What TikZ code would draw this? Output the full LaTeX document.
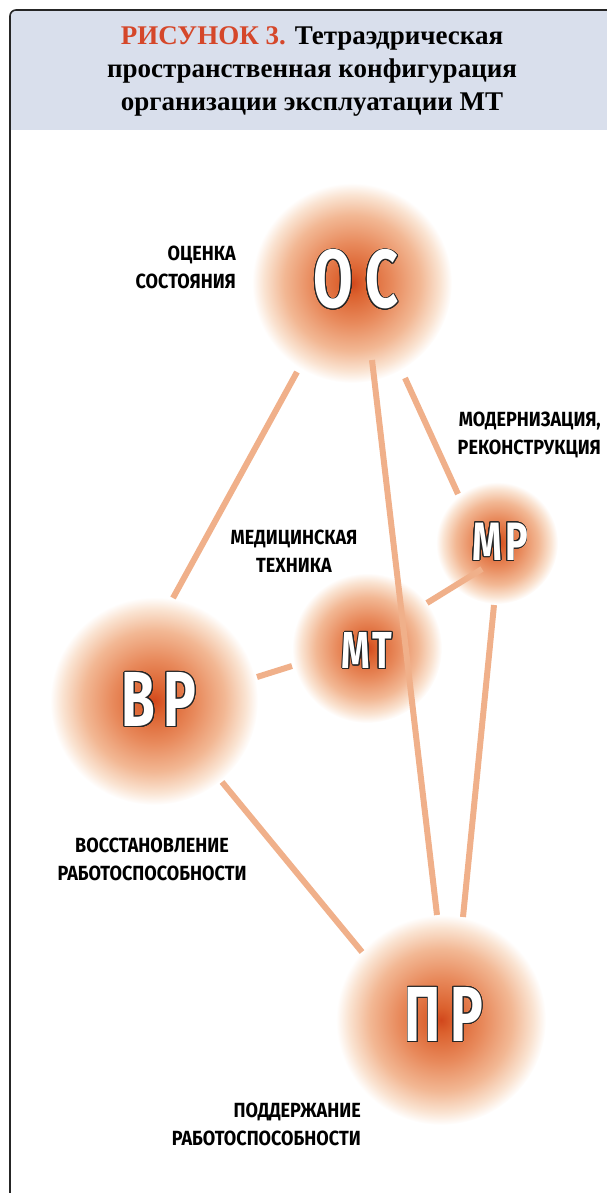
\documentclass[tikz,border=0pt]{standalone}
\usepackage{fontspec}
\usepackage{contour}
\usetikzlibrary{calc}
\newfontfamily\labfont[FakeStretch=0.88]{Fira Sans}
\newfontfamily\bigfont[FakeStretch=0.70]{Fira Sans}
\newfontfamily\ttlfont{Liberation Serif}
\definecolor{headbg}{RGB}{217,223,236}
\definecolor{titlered}{RGB}{213,71,42}
\definecolor{linkc}{RGB}{240,176,138}
\contourlength{0.9pt}
\contournumber{24}
\pgfdeclareradialshading{glow}{\pgfpoint{0bp}{0bp}}{rgb(0bp)=(0.82,0.28,0.11); rgb(3bp)=(0.86,0.38,0.18); rgb(10bp)=(0.91,0.54,0.36); rgb(17bp)=(0.95,0.72,0.58); rgb(22bp)=(0.98,0.89,0.82); rgb(25bp)=(1,1,1); rgb(50bp)=(1,1,1)}
\tikzset{
  glowc/.style={circle, inner sep=0pt, shade, shading=glow, minimum size=#1},
  link/.style={draw=linkc, line width=6pt},
  lab/.style={font=\labfont\bfseries\fontsize{20.5}{28}\selectfont, inner sep=0pt},
  big/.style={font=\bigfont\bfseries\fontsize{#1}{#1}\selectfont, text=white, inner sep=0pt},
}
\begin{document}
\begin{tikzpicture}[x=1pt,y=-1pt]
\useasboundingbox (0,0) rectangle (607,1193);
% header
\fill[headbg] (10,130) [rounded corners=6pt] -- (10,10) -- (620,10) [sharp corners] -- (620,130) -- cycle;
\draw[black!85, line width=1.6pt, rounded corners=6pt] (10,1210) -- (10,10) -- (620,10);
\node[font=\ttlfont\bfseries\fontsize{27}{33}\selectfont, align=center, inner sep=0pt] (title) at (312,71)
  {\textcolor{titlered}{РИСУНОК 3.} Тетраэдрическая\\пространственная конфигурация\\организации эксплуатации МТ};
% circles
\node[glowc=200pt] (OC) at (352,283) {};
\node[glowc=122pt] (MP) at (497,543) {};
\node[glowc=150pt] (MT) at (367,648) {};
\node[glowc=208pt] (BP) at (154,701) {};
\node[glowc=210pt] (PR) at (441,1020) {};
% links
\draw[link] ($(OC)+(-55,89)$) -- ($(BP)+(19,-103)$);
\draw[link] ($(OC)+(20,77)$) -- ($(PR)+(-4,-105)$);
\draw[link] ($(OC)+(53,95)$) -- ($(MP)+(-39,-49)$);
\draw[link] ($(MP)+(-15,26)$) -- ($(MT)+(60,-45)$);
\draw[link] ($(MP)+(-3,62)$) -- ($(PR)+(22,-103)$);
\draw[link] ($(BP)+(103,-24)$) -- ($(MT)+(-75,18)$);
\draw[link] ($(BP)+(68,81)$) -- ($(PR)+(-79,-68)$);
% big letters
\node[big=82] (OCt) at (356,280) {\contour{black!85}{О\hspace{12pt}С}};
\node[big=54] (MPt) at (500,542) {\contour{black!85}{М\hspace{3pt}Р}};
\node[big=52] (MTt) at (367,651) {\contour{black!85}{М\hspace{2pt}Т}};
\node[big=78] (BPt) at (159,700) {\contour{black!85}{В\hspace{8pt}Р}};
\node[big=78] (PRt) at (444,1015) {\contour{black!85}{П\hspace{9pt}Р}};
% labels
\node[lab, align=right, anchor=east] (OCl) at (236,267) {ОЦЕНКА\\СОСТОЯНИЯ};
\node[lab, align=right, anchor=east] (MPl) at (601,435) {МОДЕРНИЗАЦИЯ,\\РЕКОНСТРУКЦИЯ};
\node[lab, align=center] (MTl) at (294,551) {МЕДИЦИНСКАЯ\\ТЕХНИКА};
\node[lab, align=center] (BPl) at (152,859) {ВОССТАНОВЛЕНИЕ\\РАБОТОСПОСОБНОСТИ};
\node[lab, align=right, anchor=east] (PRl) at (361,1124) {ПОДДЕРЖАНИЕ\\РАБОТОСПОСОБНОСТИ};
\end{tikzpicture}
\end{document}
